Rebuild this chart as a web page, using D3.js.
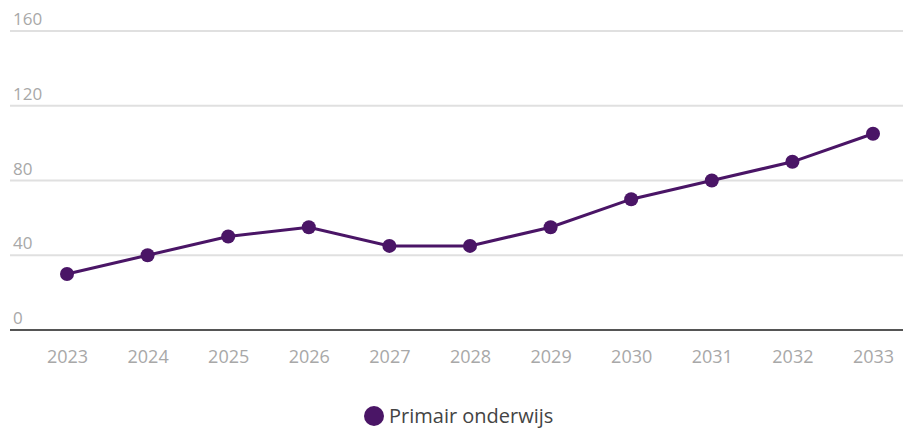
<!DOCTYPE html>
<html>
<head>
<meta charset="utf-8">
<script src="https://cdn.jsdelivr.net/npm/d3@7"></script>
<style>
  body { margin: 0; background: #fff; }
  svg { display: block; font-family: "Open Sans", sans-serif; }
</style>
</head>
<body>
<svg id="chart" width="903" height="429"></svg>
<script>
const years = ["2023", "2024", "2025", "2026", "2027", "2028", "2029", "2030", "2031", "2032", "2033"];
const primair = [30, 40, 50, 55, 45, 45, 55, 70, 80, 90, 105];
const yTicks = [0, 40, 80, 120, 160];
const seriesName = "Primair onderwijs";

const svg = d3.select("#chart"),
      color = "#4a1566",
      left = 10, right = 903;

const x = d3.scalePoint().domain(years).range([67, 873]);
const y = d3.scaleLinear().domain([0, 160]).range([330, 31]);

// gridlines + labels
const grid = svg.append("g");
grid.selectAll("line").data(yTicks.filter(d => d > 0)).join("line")
  .attr("x1", left).attr("x2", right)
  .attr("y1", d => y(d)).attr("y2", d => y(d))
  .attr("stroke", "#e0e0e0").attr("stroke-width", 2);

grid.selectAll("text").data(yTicks).join("text")
  .attr("x", 13).attr("y", d => y(d) - 6)
  .attr("fill", "#a8a8a8").attr("font-size", 17)
  .text(d => d);

// baseline
svg.append("line")
  .attr("x1", left).attr("x2", right)
  .attr("y1", y(0)).attr("y2", y(0))
  .attr("stroke", "#555").attr("stroke-width", 2);

// x axis labels
const xAxis = d3.axisBottom(x).tickSize(0).tickPadding(20);
svg.append("g").attr("transform", `translate(0,${y(0)})`).call(xAxis)
  .call(g => g.select(".domain").remove())
  .call(g => g.selectAll("text").attr("fill", "#a8a8a8").attr("font-size", 18)
    .attr("font-family", "'Open Sans', sans-serif"));

// line
const line = d3.line().x((d, i) => x(years[i])).y(d => y(d));
svg.append("path").datum(primair)
  .attr("d", line).attr("fill", "none")
  .attr("stroke", color).attr("stroke-width", 3);

svg.append("g").selectAll("circle").data(primair).join("circle")
  .attr("cx", (d, i) => x(years[i])).attr("cy", d => y(d))
  .attr("r", 7).attr("fill", color);

// legend
const legend = svg.append("g").attr("transform", "translate(374,416)");
legend.append("circle").attr("r", 10).attr("fill", color);
legend.append("text").attr("x", 15).attr("y", 7)
  .attr("fill", "#444").attr("font-size", 20)
  .text(seriesName);
</script>
</body>
</html>
